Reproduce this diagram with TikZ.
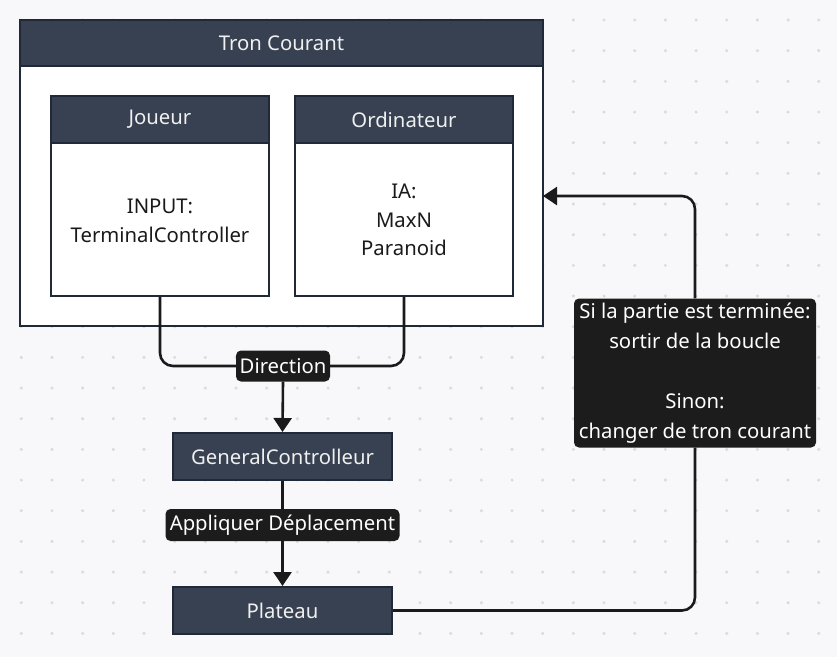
\documentclass[tikz,border=0pt]{standalone}
\usepackage{fontspec}
\setmainfont{Noto Sans}
\usetikzlibrary{arrows.meta}
\definecolor{bg}{HTML}{F8F8FA}
\definecolor{dotc}{HTML}{DADADF}
\definecolor{head}{HTML}{374151}
\definecolor{edge}{HTML}{1F2937}
\definecolor{ink}{HTML}{1A1A1A}
\definecolor{lbl}{HTML}{1C1C1C}
\begin{document}
\begin{tikzpicture}[x=1pt,y=-1pt,font=\fontsize{20.3}{28.5}\selectfont,
  header/.style={draw=edge,line width=2pt,fill=head,text=white!94!black,inner sep=0pt},
  body/.style={draw=edge,line width=1.6pt,fill=white,inner sep=0pt},
  txt/.style={text=ink,align=center,inner sep=0pt},
  tag/.style={fill=lbl,text=white,rounded corners=5pt,inner sep=0pt,align=center},
  wire/.style={draw=ink,line width=2.6pt,rounded corners=13pt},
  arr/.style={-{Triangle[width=18pt,length=14pt]}}]
% background and dots
\fill[bg] (0,0) rectangle (837,657);
\useasboundingbox (0,0) rectangle (837,657);
\foreach \i in {0,...,26}{\foreach \j in {0,...,20}{
  \fill[dotc] ({21.3+30.67*\i},{20+30.67*\j}) circle (1.7);}}
% container
\node[body,minimum width=523pt,minimum height=306pt] (outer) at (281.5,173) {};
\node[header,minimum width=523pt,minimum height=46pt] (outerhead) at (281.5,43) {Tron Courant};
% Joueur
\node[body,minimum width=218pt,minimum height=200pt] (jbody) at (160,196) {};
\node[header,minimum width=218pt,minimum height=47pt] (jhead) at (160,119.5) {Joueur};
\node[txt] (jtext) at (160,221) {INPUT:\\TerminalController};
% Ordinateur
\node[body,minimum width=218pt,minimum height=200pt] (obody) at (404,196) {};
\node[header,minimum width=218pt,minimum height=47pt] (ohead) at (404,119.5) {Ordinateur};
\node[txt] (otext) at (404,220) {IA:\\MaxN\\Paranoid};
% lower boxes
\node[header,minimum width=219pt,minimum height=47pt] (gc) at (282.5,456.5) {GeneralControlleur};
\node[header,minimum width=219pt,minimum height=47pt] (plat) at (282.5,610.5) {Plateau};
% labels
\node[tag,minimum width=94pt,minimum height=31pt] (dir) at (283,366) {Direction};
\node[tag,minimum width=234pt,minimum height=32pt] (app) at (282.5,525) {Appliquer Déplacement};
\node[tag,minimum width=242pt,minimum height=149pt,font=\fontsize{20.3}{30}\selectfont] (si) at (695,373)
  {Si la partie est terminée:\\sortir de la boucle\\[30pt]Sinon:\\changer de tron courant};
\coordinate (entry) at (543,196);
% connectors
\draw[wire] (jbody.south) |- (dir.west);
\draw[wire] (obody.south) |- (dir.east);
\draw[wire,arr] (dir.south) -- (gc.north);
\draw[wire] (gc.south) -- (app.north);
\draw[wire,arr] (app.south) -- (plat.north);
\draw[wire] (plat.east) -| (si.south);
\draw[wire,arr] (si.north) |- (entry);
\end{tikzpicture}
\end{document}
